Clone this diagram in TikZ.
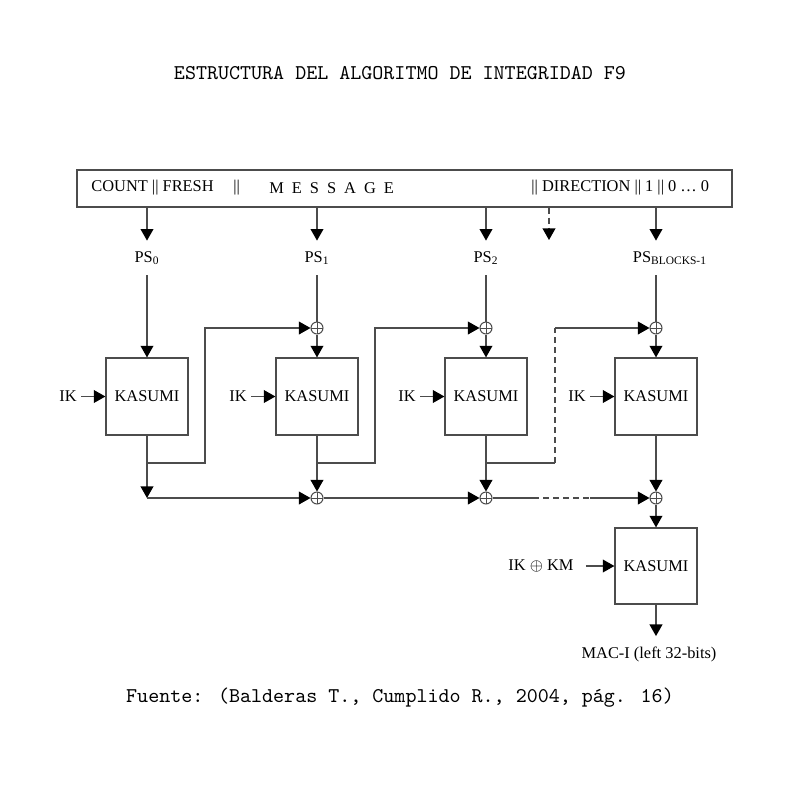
\documentclass[tikz,border=0pt]{standalone}
\usepackage{fontspec}
\setmainfont{Liberation Serif}
\usetikzlibrary{arrows.meta}

\newcommand{\kasfont}{\fontsize{8.2}{9.5}\selectfont}
\newcommand{\capfont}{\fontsize{10.5}{12}\selectfont\ttfamily}
\newcommand{\dbars}{\textbar\textbar}
\newcommand{\msgsp}{\hspace{4pt}}

\tikzset{
  line/.style={draw=black!70, line width=0.6pt},
  arr/.style={line, -{Triangle[length=5.8pt,width=6.4pt,color=black]}},
  kasumi/.style={draw=black!70, line width=0.6pt, minimum width=41pt,
    minimum height=38.5pt, inner sep=0pt, font=\kasfont},
  lbl/.style={inner sep=2pt, font=\kasfont},
  xor/.style={circle, draw=black!70, line width=0.5pt, minimum size=6pt,
    inner sep=0pt, path picture={
      \draw[black!70, line width=0.5pt]
        (path picture bounding box.north) -- (path picture bounding box.south)
        (path picture bounding box.west) -- (path picture bounding box.east);}},
}

\begin{document}
\begin{tikzpicture}[x=0.5pt,y=-0.5pt]
    \useasboundingbox (0,0) rectangle (800,800);

    % captions
    \node[font=\capfont] (title) at (400,73) {ESTRUCTURA DEL ALGORITMO DE INTEGRIDAD F9};
    \node[font=\capfont] (source) at (400,698) {Fuente: (Balderas T., Cumplido R., 2004, pág. 16)};

    % message block
    \node[draw=black!70, line width=0.6pt, minimum width=327.5pt, minimum height=18.5pt,
      inner sep=0pt] (msg) at (404.5,188.5) {};
    \node[lbl, anchor=west] (cf) at (87,188) {COUNT \dbars{} FRESH};
    \node[lbl, anchor=west] (sep) at (229,188) {\dbars};
    \node[lbl, anchor=west] (mtxt) at (265,188) {M\msgsp E\msgsp S\msgsp S\msgsp A\msgsp G\msgsp E};
    \node[lbl, anchor=west] (dir) at (527,188) {\dbars{} DIRECTION \dbars{} 1 \dbars{} 0 \ldots{} 0};

    % sub-blocks
    \node[lbl, minimum height=17pt] (ps0) at (147,258) {PS\textsubscript{0}};
    \node[lbl, minimum height=17pt] (ps1) at (317,258) {PS\textsubscript{1}};
    \node[lbl, minimum height=17pt] (ps2) at (486,258) {PS\textsubscript{2}};
    \node[lbl, minimum height=17pt] (ps3) at (670,258) {PS\textsubscript{BLOCKS-1}};
    \coordinate (dsh) at (549,240);

    % xor points
    \node[xor] (xa1) at (317,328) {};
    \node[xor] (xa2) at (486,328) {};
    \node[xor] (xa3) at (656,328) {};
    \node[xor] (xb1) at (317,498) {};
    \node[xor] (xb2) at (486,498) {};
    \node[xor] (xb3) at (656,498) {};

    % kasumi blocks and keys
    \node[kasumi] (kas0) at (147,396.5) {KASUMI};
    \node[kasumi] (kas1) at (317,396.5) {KASUMI};
    \node[kasumi] (kas2) at (486,396.5) {KASUMI};
    \node[kasumi] (kas3) at (656,396.5) {KASUMI};
    \node[lbl] (ik0) at (68,396.5) {IK};
    \node[lbl] (ik1) at (238,396.5) {IK};
    \node[lbl] (ik2) at (407,396.5) {IK};
    \node[lbl] (ik3) at (577,396.5) {IK};
    \node[kasumi, minimum height=38pt] (kasf) at (656,566) {KASUMI};
    \node[lbl, inner xsep=6pt] (ikkm) at (541,566) {IK $\oplus$ KM};
    \node[lbl, inner ysep=5pt] (mac) at (649,654) {MAC-I (left 32-bits)};

    % helper points
    \coordinate (f0) at (205,463);
    \coordinate (f1) at (375,463);
    \coordinate (f2) at (555,463);
    \coordinate (b0) at (147,498);
    \coordinate (d1) at (533,498);
    \coordinate (d2) at (590,498);

    % message to sub-blocks
    \draw[arr] (msg.south -| ps0) -- (ps0.north);
    \draw[arr] (msg.south -| ps1) -- (ps1.north);
    \draw[arr] (msg.south -| ps2) -- (ps2.north);
    \draw[arr, dashed, dash pattern=on 3pt off 2pt] (msg.south -| dsh) -- (dsh);
    \draw[arr] (msg.south -| xa3) -- (xa3 |- ps3.north);

    % sub-blocks into the chain
    \draw[arr] (ps0.south) -- (kas0.north);
    \draw[line] (ps1.south) -- (xa1.north);
    \draw[line] (ps2.south) -- (xa2.north);
    \draw[line] (ps3.south -| xa3) -- (xa3.north);
    \draw[arr] (xa1.south) -- (kas1.north);
    \draw[arr] (xa2.south) -- (kas2.north);
    \draw[arr] (xa3.south) -- (kas3.north);

    % keys
    \draw[arr] (ik0.east) -- (kas0.west);
    \draw[arr] (ik1.east) -- (kas1.west);
    \draw[arr] (ik2.east) -- (kas2.west);
    \draw[arr] (ik3.east) -- (kas3.west);

    % chaining
    \draw[arr] (kas0.south) |- (f0) |- (xa1.west);
    \draw[arr] (kas1.south) |- (f1) |- (xa2.west);
    \draw[line] (kas2.south) |- (f2);
    \draw[line, dashed, dash pattern=on 3pt off 2pt] (f2) -- (f2 |- xa3);
    \draw[arr] (f2 |- xa3) -- (xa3.west);

    % accumulation
    \draw[arr] (kas0.south) -- (b0);
    \draw[arr] (b0) -- (xb1.west);
    \draw[arr] (kas1.south) -- (xb1.north);
    \draw[arr] (kas2.south) -- (xb2.north);
    \draw[arr] (kas3.south) -- (xb3.north);
    \draw[arr] (xb1.east) -- (xb2.west);
    \draw[line] (xb2.east) -- (d1);
    \draw[line, dashed, dash pattern=on 3pt off 2pt] (d1) -- (d2);
    \draw[arr] (d2) -- (xb3.west);

    % final block
    \draw[arr] (xb3.south) -- (kasf.north);
    \draw[arr] (ikkm.east) -- (kasf.west);
    \draw[arr] (kasf.south) -- (kasf.south |- mac.north);

\end{tikzpicture}
\end{document}
